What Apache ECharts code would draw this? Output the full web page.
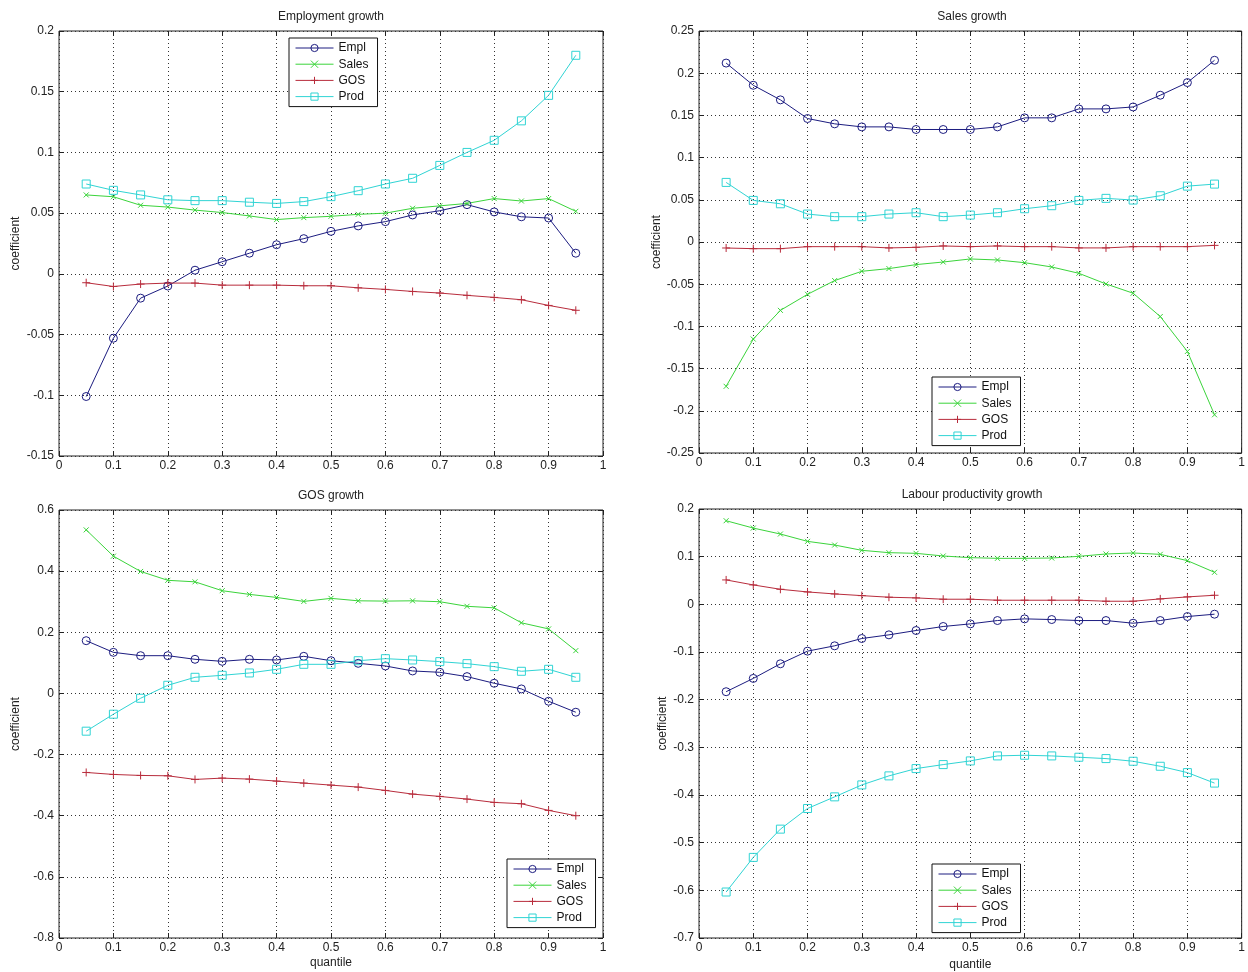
<!DOCTYPE html>
<html>
<head>
<meta charset="utf-8">
<script src="https://cdn.jsdelivr.net/npm/echarts@6/dist/echarts.min.js"></script>
<style>
html,body{margin:0;padding:0;background:#fff;}
#chart{width:1248px;height:972px;}
</style>
</head>
<body>
<div id="chart"></div>
<script>
// ---------- data ----------
const quantiles = [0.05,0.1,0.15,0.2,0.25,0.3,0.35,0.4,0.45,0.5,0.55,0.6,0.65,0.7,0.75,0.8,0.85,0.9,0.95];
const seriesNames = ['Empl','Sales','GOS','Prod'];
const panelTitles = ['Employment growth','Sales growth','GOS growth','Labour productivity growth'];
const xTicks = {min:0, max:1, interval:0.1};
const yTicks = [
  {min:-0.15, max:0.2, interval:0.05},
  {min:-0.25, max:0.25, interval:0.05},
  {min:-0.8, max:0.6, interval:0.2},
  {min:-0.7, max:0.2, interval:0.1}
];

// Employment growth
const empEmpl  = [-0.101,-0.053,-0.020,-0.010,0.003,0.010,0.017,0.024,0.029,0.035,0.0395,0.043,0.0485,0.052,0.057,0.051,0.047,0.046,0.017];
const empSales = [0.065,0.0635,0.0565,0.055,0.0525,0.0505,0.0477,0.0447,0.0463,0.0474,0.049,0.050,0.054,0.056,0.058,0.062,0.060,0.062,0.0515];
const empGOS   = [-0.0073,-0.0104,-0.0084,-0.0076,-0.0076,-0.0093,-0.0093,-0.0093,-0.0098,-0.0098,-0.0115,-0.0128,-0.0145,-0.0158,-0.0177,-0.0194,-0.0213,-0.026,-0.030];
const empProd  = [0.074,0.0688,0.065,0.061,0.0603,0.0603,0.059,0.058,0.0595,0.0636,0.0685,0.074,0.0787,0.0893,0.100,0.110,0.126,0.147,0.180];

// Sales growth
const salEmpl  = [0.212,0.1857,0.1684,0.1463,0.140,0.1364,0.1364,0.1333,0.1333,0.1333,0.1364,0.1471,0.1471,0.1577,0.1577,0.160,0.1739,0.1889,0.2153];
const salSales = [-0.171,-0.115,-0.081,-0.062,-0.0457,-0.0347,-0.0315,-0.0268,-0.0237,-0.0201,-0.0213,-0.0245,-0.0296,-0.0371,-0.0497,-0.0607,-0.0883,-0.1297,-0.2047];
const salGOS   = [-0.0071,-0.0079,-0.0079,-0.0055,-0.0055,-0.0055,-0.007,-0.0063,-0.0047,-0.0055,-0.0047,-0.0055,-0.0055,-0.007,-0.007,-0.0055,-0.0055,-0.0055,-0.004];
const salProd  = [0.0706,0.0493,0.0453,0.0331,0.030,0.030,0.0331,0.0347,0.030,0.0319,0.0347,0.0394,0.043,0.0493,0.0517,0.0497,0.0548,0.0662,0.0686];

// GOS growth
const gosEmpl  = [0.1725,0.1344,0.1235,0.1235,0.1116,0.105,0.1116,0.1094,0.1214,0.107,0.0985,0.0898,0.0735,0.0691,0.055,0.0332,0.0147,-0.0256,-0.0615];
const gosSales = [0.535,0.449,0.399,0.370,0.365,0.336,0.324,0.314,0.301,0.311,0.303,0.302,0.303,0.300,0.285,0.280,0.231,0.211,0.140];
const gosGOS   = [-0.2585,-0.265,-0.2683,-0.2694,-0.2813,-0.277,-0.2803,-0.2868,-0.2933,-0.2999,-0.3064,-0.3173,-0.3293,-0.3369,-0.3456,-0.3565,-0.3608,-0.3826,-0.400];
const gosProd  = [-0.1235,-0.068,-0.0158,0.0267,0.0528,0.0593,0.0669,0.0789,0.0952,0.0952,0.107,0.1137,0.1094,0.104,0.0974,0.0876,0.0724,0.0789,0.0528];

// Labour productivity growth
const lpEmpl  = [-0.1833,-0.1554,-0.1247,-0.0982,-0.087,-0.0717,-0.064,-0.0549,-0.0465,-0.041,-0.034,-0.0305,-0.0319,-0.034,-0.034,-0.0396,-0.034,-0.0256,-0.0207];
const lpSales = [0.1754,0.160,0.1475,0.1321,0.1244,0.1133,0.1084,0.107,0.1014,0.0979,0.0965,0.0965,0.0972,0.1007,0.1056,0.1077,0.1049,0.0916,0.0672];
const lpGOS   = [0.0512,0.0407,0.0316,0.026,0.0218,0.0183,0.0149,0.0135,0.0107,0.0107,0.0086,0.0086,0.0086,0.0086,0.0065,0.0065,0.0114,0.0156,0.019];
const lpProd  = [-0.6035,-0.5309,-0.4716,-0.4283,-0.4039,-0.3788,-0.3599,-0.3446,-0.3362,-0.3285,-0.318,-0.3166,-0.318,-0.3208,-0.3236,-0.3292,-0.3397,-0.353,-0.375];

const panelData = [
  [empEmpl, empSales, empGOS, empProd],
  [salEmpl, salSales, salGOS, salProd],
  [gosEmpl, gosSales, gosGOS, gosProd],
  [lpEmpl, lpSales, lpGOS, lpProd]
];

// ---------- layout / style ----------
const grids = [
  {left:59,  top:31,  width:544, height:425},
  {left:699, top:31,  width:546, height:422},
  {left:59,  top:510, width:544, height:428},
  {left:699, top:509, width:546, height:430}
];
const yNameGaps = [37, 36, 37, 30];
const legendPos = [
  {left:289, top:38},
  {left:932, top:377},
  {left:507, top:859},
  {left:932, top:864}
];
const seriesStyles = [
  {color:'#1c1c80', symbol:'circle', symbolSize:8, hollow:true},
  {color:'#3bd43b', symbol:'path://M0,0L10,10M10,0L0,10', symbolSize:5, hollow:false},
  {color:'#b82c3c', symbol:'path://M5,0L5,10M0,5L10,5', symbolSize:8, hollow:false},
  {color:'#30d4d4', symbol:'rect', symbolSize:8, hollow:true}
];
const FONT = 'Liberation Sans, Arial, sans-serif';
const textColor = '#222';

const option = {
  backgroundColor:'#fff',
  animation:false,
  title:[], grid:[], xAxis:[], yAxis:[], legend:[], series:[]
};

grids.forEach((g, i) => {
  option.grid.push(Object.assign({show:true, borderColor:'#222', borderWidth:1, backgroundColor:'#fff', containLabel:false}, g));
  option.title.push({
    text: panelTitles[i], left: g.left + g.width/2, top: g.top - 20,
    textAlign:'center', textVerticalAlign:'top', padding:0,
    textStyle:{fontSize:12, fontWeight:'normal', color:textColor, fontFamily:FONT}
  });
  const tickStyle = {inside:true, length:5, lineStyle:{color:'#222', width:1}};
  option.xAxis.push({
    gridIndex:i, type:'value', min:xTicks.min, max:xTicks.max, interval:xTicks.interval,
    axisLine:{show:false, onZero:false}, axisTick:tickStyle,
    axisLabel:{fontSize:12, color:textColor, margin:4, fontFamily:FONT},
    splitLine:{show:true, lineStyle:{type:[1,3], color:'#333', width:1}},
    name: i >= 2 ? 'quantile' : '', nameLocation:'middle', nameGap: i === 3 ? 21 : 19,
    nameTextStyle:{fontSize:12, color:textColor, fontFamily:FONT, verticalAlign:'top'}
  });
  option.xAxis.push({
    gridIndex:i, type:'value', position:'top', min:xTicks.min, max:xTicks.max, interval:xTicks.interval,
    axisLine:{show:false, onZero:false}, axisTick:tickStyle, axisLabel:{show:false}, splitLine:{show:false}
  });
  option.yAxis.push({
    gridIndex:i, type:'value', min:yTicks[i].min, max:yTicks[i].max, interval:yTicks[i].interval,
    axisLine:{show:false, onZero:false}, axisTick:tickStyle,
    axisLabel:{fontSize:12, color:textColor, margin:5, fontFamily:FONT},
    splitLine:{show:true, lineStyle:{type:[1,3], color:'#333', width:1}},
    name:'coefficient', nameLocation:'middle', nameGap:yNameGaps[i], nameRotate:90,
    nameTextStyle:{fontSize:12, color:textColor, fontFamily:FONT}
  });
  option.yAxis.push({
    gridIndex:i, type:'value', position:'right', min:yTicks[i].min, max:yTicks[i].max, interval:yTicks[i].interval,
    axisLine:{show:false, onZero:false}, axisTick:tickStyle, axisLabel:{show:false}, splitLine:{show:false}
  });
  option.legend.push({
    data: seriesNames, orient:'vertical', left:legendPos[i].left, top:legendPos[i].top,
    itemWidth:38, itemHeight:9, itemGap:4.2, padding:[4,9,4,6],
    borderColor:'#111', borderWidth:1, backgroundColor:'#fff', selectedMode:false,
    lineStyle:{width:1}, itemStyle:{borderWidth:1},
    textStyle:{fontSize:12, color:'#111', fontFamily:FONT}, z:10
  });
  panelData[i].forEach((vals, k) => {
    const st = seriesStyles[k];
    option.series.push({
      name: seriesNames[k], type:'line', xAxisIndex:2*i, yAxisIndex:2*i,
      data: quantiles.map((q, j) => [q, vals[j]]),
      symbol: st.symbol, symbolSize: st.symbolSize,
      lineStyle:{color:st.color, width:1},
      itemStyle:{color: st.hollow ? 'rgba(255,255,255,0)' : st.color, borderColor:st.color, borderWidth:1},
      emphasis:{disabled:true}
    });
  });
});

const chart = echarts.init(document.getElementById('chart'), null, {renderer:'canvas'});
chart.setOption(option);
</script>
</body>
</html>
